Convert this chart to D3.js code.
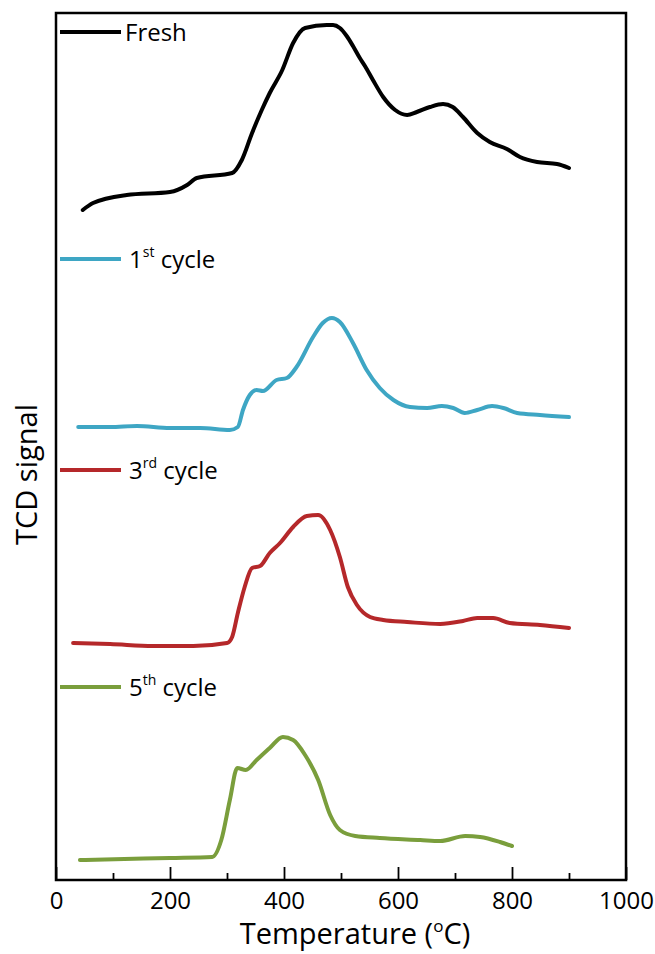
<!DOCTYPE html>
<meta charset="utf-8">
<style>
body { margin: 0; background: #fff; }
text { font-family: "Open Sans", "DejaVu Sans", sans-serif; fill: #000; }
.trace { fill: none; stroke-width: 4px; stroke-linejoin: round; stroke-linecap: round; }
</style>
<svg id="chart" width="655" height="954"></svg>
<script src="https://d3js.org/d3.v7.min.js"></script>
<script>

// temperature (C) and TCD signal (a.u., stacked offsets)
var freshT = [47,65,124,200,230,247,309,326,344,361,375,397,416,437,475,486,498,510,521,533,542,556,574,595,616,633,656,679,696,714,739,761,791,814,844,879,900];
var freshS = [670,677,685,688,695,702,707,720,747,770,787,810,837,852,855,855,852,844,834,822,814,800,783,770,765,768,773,776,773,763,747,738,731,723,718,716,712];

var c1T = [39,95,142,200,253,305,319,328,340,352,363,387,405,422,451,468,484,498,521,545,568,592,621,651,677,697,717,739,765,785,809,849,900];
var c1S = [453,453,454,452,452,450,453,470,485,490,489,500,502,513,543,557,562,558,537,510,492,480,473,472,474,472,467,470,474,472,467,465,463];

var c3T = [30,95,170,241,300,309,319,331,344,358,375,393,416,440,460,481,498,512,528,551,574,616,674,714,739,767,796,849,900];
var c3S = [237,236,234,234,237,243,267,293,312,314,327,337,353,364,365,350,323,293,275,263,260,258,256,259,262,262,257,255,252];

var c5T = [42,120,200,274,290,305,318,333,352,375,398,416,437,460,481,498,525,568,639,674,718,744,779,800];
var c5S = [20,21,22,23,40,80,112,110,120,132,143,140,125,100,65,50,44,42,40,39,44,43,38,34];

var series = [
  { name: "Fresh", sup: "", rest: "", T: freshT, S: freshS, color: "#000000", ly: 32 },
  { name: "1", sup: "st", rest: " cycle", T: c1T, S: c1S, color: "#3ea6c4", ly: 259 },
  { name: "3", sup: "rd", rest: " cycle", T: c3T, S: c3S, color: "#b5282a", ly: 470 },
  { name: "5", sup: "th", rest: " cycle", T: c5T, S: c5S, color: "#7a9e3c", ly: 687 }
];

var xTicks = [0, 200, 400, 600, 800, 1000];
var xMinor = [100, 300, 500, 700, 900];

var m = { left: 56, right: 626, top: 13, bottom: 880 };

var x = d3.scaleLinear().domain([0, 1000]).range([m.left, m.right]);
var y = d3.scaleLinear().domain([0, 867]).range([m.bottom, m.top]);

var svg = d3.select("#chart");

// frame
svg.append("rect")
    .attr("x", m.left).attr("y", m.top)
    .attr("width", m.right - m.left).attr("height", m.bottom - m.top)
    .attr("fill", "none").attr("stroke", "#000").attr("stroke-width", 2.5);

// x axis, ticks pointing inward
var xAxis = svg.append("g")
    .attr("transform", "translate(0," + m.bottom + ")")
    .call(d3.axisBottom(x).tickValues(xTicks).tickSize(-13).tickPadding(12).tickFormat(d3.format("d")));
xAxis.select(".domain").remove();
xAxis.selectAll("line").attr("stroke-width", 1.8);
xAxis.selectAll("text").style("font-size", "24px").attr("fill", "#000");

var xAxisMinor = svg.append("g")
    .attr("transform", "translate(0," + m.bottom + ")")
    .call(d3.axisBottom(x).tickValues(xMinor).tickSize(-7).tickFormat(""));
xAxisMinor.select(".domain").remove();
xAxisMinor.selectAll("line").attr("stroke-width", 1.8);

// axis titles
var xt = svg.append("text")
    .attr("x", (m.left + m.right) / 2 + 14).attr("y", 944)
    .attr("text-anchor", "middle")
    .style("font-size", "29px");
xt.append("tspan").text("Temperature (");
xt.append("tspan").attr("dy", -12).style("font-size", "17px").text("o");
xt.append("tspan").attr("dy", 12).text("C)");

svg.append("text")
    .attr("transform", "translate(37," + ((m.top + m.bottom) / 2 + 28) + ") rotate(-90)")
    .attr("text-anchor", "middle")
    .style("font-size", "29px")
    .text("TCD signal");

var line = d3.line()
    .x(function(d) { return x(d[0]); })
    .y(function(d) { return y(d[1]); })
    .curve(d3.curveMonotoneX);

series.forEach(function(s) {
  svg.append("path")
      .attr("class", "trace")
      .attr("stroke", s.color)
      .attr("d", line(d3.zip(s.T, s.S)));

  // legend entry
  svg.append("line")
      .attr("x1", 60).attr("x2", 121)
      .attr("y1", s.ly).attr("y2", s.ly)
      .attr("stroke", s.color).attr("stroke-width", 4);

  var t = svg.append("text")
      .attr("x", s.sup ? 129 : 125).attr("y", s.ly + 9)
      .style("font-size", "24px");
  t.append("tspan").text(s.name);
  if (s.sup) {
    t.append("tspan").attr("dy", -11).style("font-size", "14px").text(s.sup);
    t.append("tspan").attr("dy", 11).text(s.rest);
  }
});

</script>
